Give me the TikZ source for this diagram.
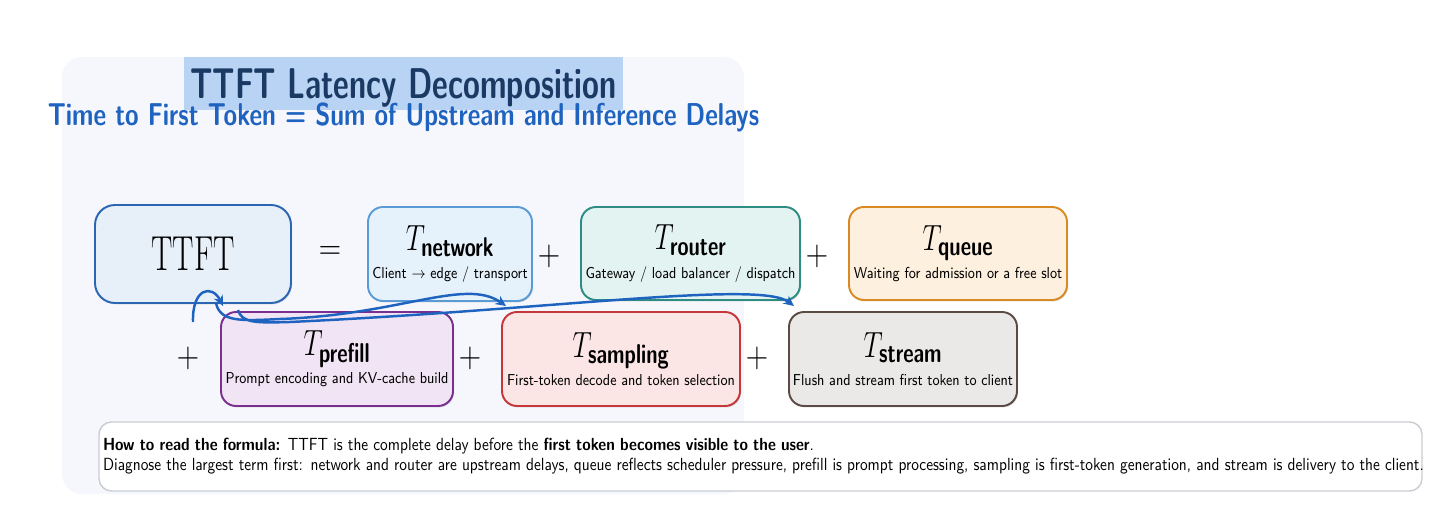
\documentclass[tikz,border=0pt]{standalone}
\usepackage{fontspec}
\usepackage{graphicx}
\usetikzlibrary{arrows.meta,shadows}

\definecolor{titlenavy}{HTML}{1B3A63}
\definecolor{titlehl}{HTML}{B9D3F5}
\definecolor{subblue}{HTML}{1F63C0}
\definecolor{panelbg}{HTML}{F5F7FC}
\definecolor{ttftline}{HTML}{2B66B3}
\definecolor{ttftfill}{HTML}{E7EFF9}
\definecolor{netline}{HTML}{5A9BD5}
\definecolor{netfill}{HTML}{E5F2FC}
\definecolor{routline}{HTML}{2F8C83}
\definecolor{routfill}{HTML}{E3F3F1}
\definecolor{queueline}{HTML}{D98A23}
\definecolor{queuefill}{HTML}{FEF0DE}
\definecolor{prefline}{HTML}{7A2E8E}
\definecolor{preffill}{HTML}{F1E4F4}
\definecolor{sampline}{HTML}{C6373B}
\definecolor{sampfill}{HTML}{FBE5E5}
\definecolor{strmline}{HTML}{5C4B45}
\definecolor{strmfill}{HTML}{EBE9E7}
\definecolor{notegray}{HTML}{C9CDD3}

% narrow text like the original
\newcommand{\sqz}[2][0.8]{\scalebox{#1}[1]{#2}}
\newcommand{\desc}[1]{\sqz[0.87]{\fontsize{9}{10}\selectfont\sffamily #1}}
\newcommand{\delay}[1]{\sqz[0.74]{$T_{\textsf{\textbf{\fontsize{15.5}{16}\selectfont #1}}}$}}

\tikzset{%
	term/.style    = {draw, line width=1.1pt, rounded corners=0.3cm, minimum height=1.88cm,
		inner sep=2pt, align=center, font=\fontsize{22}{16}\selectfont,
		drop shadow={shadow xshift=0.6pt, shadow yshift=-0.8pt, opacity=0.3}},
	opsign/.style  = {font=\fontsize{22}{24}\selectfont}, % + and =
	flow/.style    = {draw=subblue, line width=1.4pt, -{Stealth[length=6pt,width=5.5pt]}},
	note/.style    = {draw=notegray, fill=white, line width=0.8pt, rounded corners=0.25cm,
		minimum width=26.46cm, minimum height=1.38cm, text width=26.3cm, align=left,
		inner sep=0.08cm, font=\fontsize{10}{11.4}\selectfont\sffamily}
}

\begin{document}
\begin{tikzpicture}
	\useasboundingbox (0,0) rectangle (28.64,-10.2);
	\fill[panelbg, rounded corners=0.4cm] (1.24,-1.14) rectangle (14.88,-9.88);

	% header
	\node[fill=titlehl, minimum width=8.72cm, minimum height=1.06cm, text depth=0pt,
		text=titlenavy] (title) at (8.07,-1.67)
		{\sqz[0.712]{\fontsize{24.5}{28}\selectfont\sffamily\bfseries TTFT Latency Decomposition}};
	\node[anchor=base, text=subblue] (subtitle) at (8.07,-2.52)
		{\sqz[0.78]{\fontsize{18}{20}\selectfont\sffamily\bfseries Time to First Token = Sum of Upstream and Inference Delays}};

	% first row
	\node[term, draw=ttftline, fill=ttftfill, rounded corners=0.4cm, minimum width=3.92cm,
		minimum height=1.96cm] (ttft) at (3.86,-5.08) {\sqz[0.65]{\fontsize{28}{30}\selectfont TTFT}};
	\node[opsign] (eq) at (6.6,-5.06) {\sqz[0.85]{$=$}};
	\node[term, draw=netline, fill=netfill, minimum width=3.28cm] (network) at (9.0,-5.08)
		{\delay{network}\\ \desc{Client $\to$ edge / transport}};
	\node[opsign] (plusa) at (10.98,-5.12) {\sqz[0.85]{$+$}};
	\node[term, draw=routline, fill=routfill, minimum width=4.38cm, minimum height=1.86cm] (router) at (13.81,-5.07)
		{\delay{router}\\ \desc{Gateway / load balancer / dispatch}};
	\node[opsign] (plusb) at (16.34,-5.12) {\sqz[0.85]{$+$}};
	\node[term, draw=queueline, fill=queuefill, minimum width=4.36cm, minimum height=1.86cm] (queue) at (19.16,-5.07)
		{\delay{queue}\\ \desc{Waiting for admission or a free slot}};

	% second row
	\node[opsign] (plusc) at (3.76,-7.16) {\sqz[0.85]{$+$}};
	\node[term, draw=prefline, fill=preffill, minimum width=4.64cm] (prefill) at (6.74,-7.18)
		{\delay{prefill}\\ \desc{Prompt encoding and KV-cache build}};
	\node[opsign] (plusd) at (9.4,-7.16) {\sqz[0.85]{$+$}};
	\node[term, draw=sampline, fill=sampfill, minimum width=4.76cm] (sampling) at (12.42,-7.18)
		{\delay{sampling}\\ \desc{First-token decode and token selection}};
	\node[opsign] (pluse) at (15.14,-7.16) {\sqz[0.85]{$+$}};
	\node[term, draw=strmline, fill=strmfill, minimum width=4.56cm] (stream) at (18.06,-7.18)
		{\delay{stream}\\ \desc{Flush and stream first token to client}};

	% reading note
	\node[note] (howto) at (15.21,-9.13)
		{\sqz[0.875]{\textbf{How to read the formula:} TTFT is the complete delay before the \textbf{first token becomes visible to the user}.}\\
		\sqz[0.875]{Diagnose the largest term first: network and router are upstream delays, queue reflects scheduler pressure, prefill is prompt processing, sampling is first-token generation, and stream is delivery to the client.}};

	% wrap arrows
	\coordinate (wrapa) at (3.86,-6.44);
	\coordinate (wrapb) at (4.32,-6.06);
	\coordinate (wrapc) at (4.76,-6.2);
	\draw[flow] (wrapa) .. controls (3.84,-5.76) and (4.24,-5.68) .. ([xshift=0.06cm,yshift=0.1cm]prefill.north west);
	\draw[flow] (wrapb) .. controls (4.4,-6.44) and (4.8,-6.42) .. (5.6,-6.38)
		.. controls (8.0,-6.3) and (9.3,-5.55) .. ([xshift=0.1cm,yshift=0.1cm]sampling.north west);
	\draw[flow] (wrapc) .. controls (4.84,-6.46) and (5.1,-6.46) .. (5.8,-6.44)
		.. controls (11.0,-6.2) and (15.2,-5.6) .. ([xshift=0.12cm,yshift=0.1cm]stream.north west);
\end{tikzpicture}
\end{document}
